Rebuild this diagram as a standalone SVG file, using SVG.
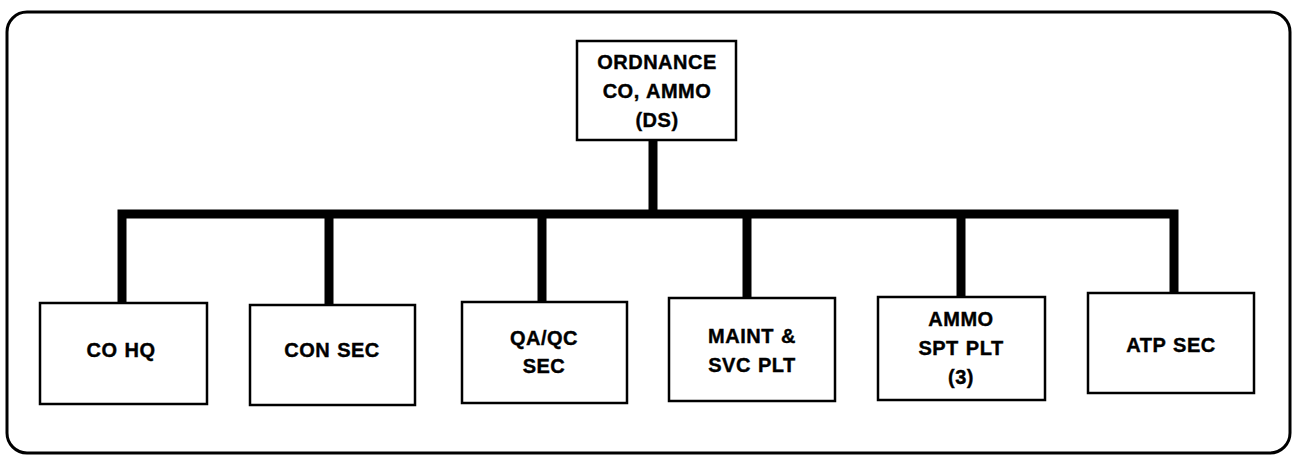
<svg xmlns="http://www.w3.org/2000/svg" width="1296" height="458" viewBox="0 0 1296 458">
<style>
.frame{fill:none;stroke:#000;stroke-width:3}
.box{fill:#fff;stroke:#000;stroke-width:2.5}
.conn{fill:none;stroke:#000;stroke-width:9;stroke-linejoin:miter;stroke-linecap:butt}
text{font-family:"Liberation Sans",Arial,sans-serif;font-weight:bold;font-size:20px;letter-spacing:0.5px;word-spacing:1px;text-anchor:middle;fill:#000;stroke:#000;stroke-width:0.4}
</style>
<rect class="frame" x="7" y="12" width="1283" height="441" rx="20" ry="20"/>
<g id="connectors">
<path class="conn" d="M653,140 V214"/>
<path class="conn" d="M122,303 V214 H1174 V293"/>
<path class="conn" d="M329,305 V214"/>
<path class="conn" d="M542,302 V214"/>
<path class="conn" d="M747,298 V214"/>
<path class="conn" d="M961,297 V214"/>
</g>
<g id="ordnance">
<rect class="box" x="577" y="41" width="159" height="99"/>
<text x="657" y="69">ORDNANCE</text>
<text x="657" y="98">CO, AMMO</text>
<text x="657" y="127">(DS)</text>
</g>
<g id="cohq">
<rect class="box" x="40" y="303" width="167" height="101"/>
<text x="121" y="357">CO HQ</text>
</g>
<g id="consec">
<rect class="box" x="250" y="305" width="165" height="100"/>
<text x="332" y="357">CON SEC</text>
</g>
<g id="qaqc">
<rect class="box" x="462" y="302" width="165" height="101"/>
<text x="544" y="345">QA/QC</text>
<text x="544" y="373">SEC</text>
</g>
<g id="maint">
<rect class="box" x="669" y="298" width="166" height="103"/>
<text x="752" y="343">MAINT &amp;</text>
<text x="752" y="372">SVC PLT</text>
</g>
<g id="ammo">
<rect class="box" x="878" y="297" width="167" height="103"/>
<text x="961" y="326">AMMO</text>
<text x="961" y="355">SPT PLT</text>
<text x="961" y="384">(3)</text>
</g>
<g id="atp">
<rect class="box" x="1088" y="293" width="166" height="100"/>
<text x="1171" y="352">ATP SEC</text>
</g>
</svg>
